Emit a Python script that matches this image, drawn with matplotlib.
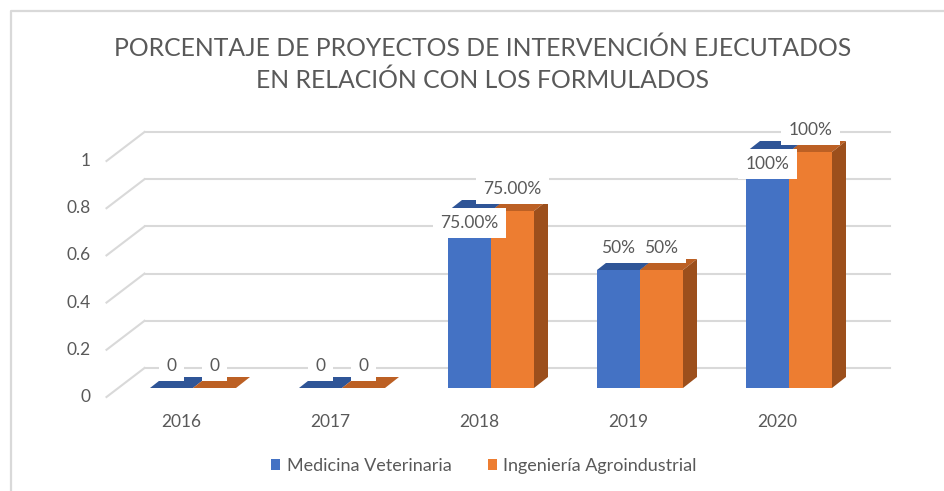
import matplotlib.pyplot as plt
from matplotlib.patches import Polygon, Rectangle, Patch

# datos
anios = ['2016', '2017', '2018', '2019', '2020']
medicina = [0, 0, 0.75, 0.5, 1]
ingenieria = [0, 0, 0.75, 0.5, 1]
etiq_medicina = ['0', '0', '75.00%', '50%', '100%']
etiq_ingenieria = ['0', '0', '75.00%', '50%', '100%']
ticks_y = [0, 0.2, 0.4, 0.6, 0.8, 1]
ticks_txt = ['0', '0.2', '0.4', '0.6', '0.8', '1']
series = ['Medicina Veterinaria', 'Ingeniería Agroindustrial']

# colores (frente, tapa, lateral)
AZUL = ('#4472C4', '#2F5597', '#2E5090')
NARANJA = ('#ED7D31', '#BC6024', '#9C4F1C')
GRIS_TXT = '#595959'
GRIS_LIN = '#D9D9D9'
FUENTE = 'Lato'

W, H = 944, 491
fig = plt.figure(figsize=(W / 100, H / 100), dpi=100)
ax = fig.add_axes([0, 0, 1, 1])

# escala: px por categoria y px por unidad de valor
PX, PY = 149, 236
X0, Y0 = 193, 388
ax.set_xlim(-X0 / PX, (W - X0) / PX)
ax.set_ylim((Y0 - H) / PY, Y0 / PY)
ax.axis('off')


def px(d):
    return d / PX


def py(d):
    return d / PY


DX, DY = px(14), py(11)      # profundidad de las barras
BX, BY = px(26), py(20)      # pared del fondo
FX, FY = px(-12), py(-9)     # borde delantero del piso
ancho = px(43)
xl, xr = -0.5, len(anios) - 0.5

# lineas de la pared del fondo y del piso
for v, t in zip(ticks_y, ticks_txt):
    ax.plot([xl + BX, xr + BX], [v + BY, v + BY], color=GRIS_LIN, lw=1.5, zorder=1)
    ax.plot([xl + FX, xl + BX], [v + FY, v + BY], color=GRIS_LIN, lw=1.5, zorder=1)
    ax.text(xl + FX - px(16), v + FY, t, ha='right', va='center',
            fontsize=12.5, color=GRIS_TXT, family=FUENTE)

for i, anio in enumerate(anios):
    ax.text(i + FX, FY - py(25), anio, ha='center', va='center',
            fontsize=12.5, color=GRIS_TXT, family=FUENTE)
    for k, (vals, etqs, col) in enumerate([(medicina, etiq_medicina, AZUL),
                                           (ingenieria, etiq_ingenieria, NARANJA)]):
        val = vals[i]
        izq = i - ancho + k * ancho
        der = izq + ancho
        z = 2 + i * 2 + k
        ax.add_patch(Rectangle((izq, 0), ancho, val, facecolor=col[0], lw=0, zorder=z))
        ax.add_patch(Polygon([(izq, val), (der, val), (der + DX, val + DY), (izq + DX, val + DY)],
                             closed=True, facecolor=col[1], lw=0, zorder=z))
        ax.add_patch(Polygon([(der, 0), (der + DX, DY), (der + DX, val + DY), (der, val)],
                             closed=True, facecolor=col[2], lw=0, zorder=z))
        ty = val + DY + py(11)
        if k == 0 and len(etqs[i]) > 3:
            ty -= py(34)
        ax.text(izq + ancho / 2, ty, etqs[i], ha='center', va='center', fontsize=12.5,
                color=GRIS_TXT, family=FUENTE, zorder=30,
                bbox=dict(boxstyle='square,pad=0.42', facecolor='white', edgecolor='none'))

# borde del area del grafico
bx = px(11 - X0)
by_top = py(Y0 - 11)
ax.plot([bx, bx, ax.get_xlim()[1]], [ax.get_ylim()[0], by_top, by_top],
        color=GRIS_LIN, lw=1.6, zorder=0, clip_on=False)

fig.text(482.5 / W, 1 - 64.5 / H,
         'PORCENTAJE DE PROYECTOS DE INTERVENCIÓN EJECUTADOS\nEN RELACIÓN CON LOS FORMULADOS',
         ha='center', va='center', fontsize=17.8, color=GRIS_TXT, family=FUENTE, linespacing=1.42)

manejadores = [Patch(facecolor=AZUL[0], label=series[0]),
               Patch(facecolor=NARANJA[0], label=series[1])]
fig.legend(handles=manejadores, loc='center', bbox_to_anchor=(484 / W, 1 - 466 / H), ncol=2,
           frameon=False, prop={'family': FUENTE, 'size': 13}, labelcolor=GRIS_TXT,
           handlelength=0.5, handleheight=0.5, handletextpad=0.35, columnspacing=2.0)

fig.savefig('out.png', dpi=100)
